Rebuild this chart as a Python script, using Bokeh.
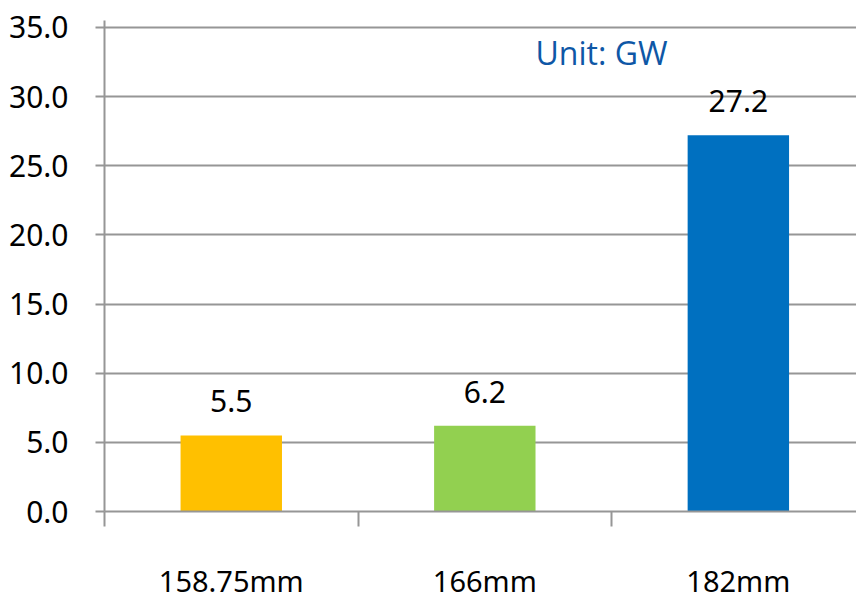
from bokeh.plotting import figure
from bokeh.models import Range1d, FixedTicker, NumeralTickFormatter, ColumnDataSource, Label
from bokeh.core.properties import value
from bokeh.embed import file_html
from bokeh.resources import INLINE

categories = ["158.75mm", "166mm", "182mm"]
values = [5.5, 6.2, 27.2]
colors = ["#FFC000", "#92D050", "#0070C0"]
value_labels = ["5.5", "6.2", "27.2"]
y_ticks = [0, 5, 10, 15, 20, 25, 30, 35]
unit_text = "Unit: GW"

NUM_FONT = "Noto Sans"

centers = [i + 0.5 for i in range(len(categories))]
src = ColumnDataSource(dict(x=centers, top=values, color=colors, label=value_labels))

p = figure(width=856, height=602, output_backend="svg", toolbar_location=None,
           x_range=Range1d(0, 2.966), y_range=Range1d(0, 35.5),
           min_border_left=104, min_border_right=0, min_border_top=20, min_border_bottom=85)
p.outline_line_color = None
p.background_fill_color = "white"
p.border_fill_color = "white"

p.vbar(x="x", top="top", bottom=0, width=0.4, color="color", source=src, line_color=None)

p.text(x="x", y="top", text="label", source=src, text_align="center",
       text_baseline="alphabetic", y_offset=-34, text_font=value(NUM_FONT),
       text_font_size="30px", text_color="black")

p.add_layout(Label(x=1.70, y=33.2, text=unit_text, text_font="Open Sans",
                   text_font_size="32px", text_color="#0E57A6",
                   text_baseline="alphabetic", text_align="left"))

# y axis
p.yaxis.ticker = FixedTicker(ticks=y_ticks)
p.yaxis.formatter = NumeralTickFormatter(format="0.0")
p.yaxis.major_tick_out = 9
p.yaxis.major_tick_in = 0
p.yaxis.minor_tick_out = 0
p.yaxis.minor_tick_in = 0
p.yaxis.major_tick_line_color = "#969696"
p.yaxis.major_tick_line_width = 2
p.yaxis.axis_line_color = "#969696"
p.yaxis.axis_line_width = 2
p.yaxis.major_label_standoff = 27
p.yaxis.major_label_text_font = NUM_FONT
p.yaxis.major_label_text_font_size = "30px"
p.yaxis.major_label_text_color = "black"

# x axis
p.xaxis.ticker = FixedTicker(ticks=centers, minor_ticks=[0, 1, 2, 3])
p.xaxis.major_label_overrides = {c: lab for c, lab in zip(centers, categories)}
p.xaxis.major_tick_out = 0
p.xaxis.major_tick_in = 0
p.xaxis.minor_tick_out = 15
p.xaxis.minor_tick_in = 0
p.xaxis.minor_tick_line_color = "#969696"
p.xaxis.minor_tick_line_width = 2
p.xaxis.axis_line_color = "#969696"
p.xaxis.axis_line_width = 2
p.xaxis.major_label_standoff = 34
p.xaxis.major_label_text_font = NUM_FONT
p.xaxis.major_label_text_font_size = "29px"
p.xaxis.major_label_text_color = "black"

p.xgrid.grid_line_color = None
p.ygrid.ticker = FixedTicker(ticks=y_ticks)
p.ygrid.grid_line_color = "#969696"
p.ygrid.grid_line_width = 2

open("out.html", "w").write(file_html(p, INLINE))
